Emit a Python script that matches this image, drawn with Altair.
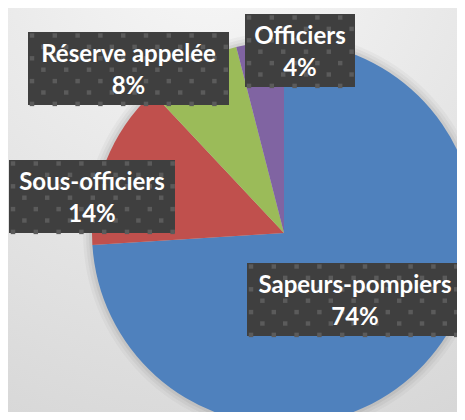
import altair as alt
import pandas as pd

# ---- data ----
categories = ["Sapeurs-pompiers", "Sous-officiers", "Réserve appelée", "Officiers"]
values = [74, 14, 8, 4]
pct_labels = ["74%", "14%", "8%", "4%"]
colors = ["#4f81bd", "#c0504d", "#9bbb59", "#8064a2"]

# ---- layout (page pixels, used only for placing annotation boxes) ----
W, H = 449, 404
CX, CY, R = 284, 233, 192          # pie centre / radius in page pixels
box_left = [247, 9, 28, 245]
box_right = [463, 175, 229, 355]
box_top = [263, 160, 32, 14]
BOX_H = 73
STEP = 11.4


def ux(px):
    return (px - CX) / R


def uy(py):
    return (CY - py) / R


xs = alt.Scale(domain=[ux(8), ux(8 + W)], nice=False, zero=False)
ys = alt.Scale(domain=[uy(8 + H), uy(8)], nice=False, zero=False)

pie_df = pd.DataFrame({
    "cat": categories,
    "value": values,
    "order": list(range(len(categories))),
    "cx": [0.0] * 4,
    "cy": [0.0] * 4,
})

lab_df = pd.DataFrame({
    "cat": categories,
    "pct": pct_labels,
    "x1": [ux(v) for v in box_left],
    "x2": [ux(v) for v in box_right],
    "y1": [uy(v) for v in box_top],
    "y2": [uy(v + BOX_H) for v in box_top],
    "tx": [ux((a + b) / 2) for a, b in zip(box_left, box_right)],
    "ty1": [uy(v + 30) for v in box_top],
    "ty2": [uy(v + 62) for v in box_top],
})

# decorative dotted fill pattern of the label boxes
pat_x, pat_y = [], []
for l, r, t in zip(box_left, box_right, box_top):
    j = 0
    while t + 3.5 + STEP * j < t + BOX_H - 1:
        i = 0
        while l + 4 + STEP * i < r - 1:
            if (i + j) % 2 == 0:
                pat_x.append(ux(l + 4 + STEP * i))
                pat_y.append(uy(t + 3.5 + STEP * j))
            i += 1
        j += 1
pat_df = pd.DataFrame({"x": pat_x, "y": pat_y})

centre_df = pd.DataFrame({"cx": [0.0], "cy": [0.0]})
bg_df = pd.DataFrame({"x": [ux(8)], "x2": [ux(8 + W)], "y": [uy(8)], "y2": [uy(8 + H)]})

bg = alt.Chart(bg_df).mark_rect(
    fill=alt.RadialGradient(
        gradient="radial",
        x1=0.45, y1=-0.1, r1=0.0,
        x2=0.45, y2=-0.1, r2=1.25,
        stops=[alt.GradientStop(color="#f8f8f8", offset=0),
               alt.GradientStop(color="#d5d5d5", offset=1)],
    )
).encode(
    x=alt.X("x:Q", scale=xs, axis=None),
    x2="x2:Q",
    y=alt.Y("y:Q", scale=ys, axis=None),
    y2="y2:Q",
)

shadow_layers = []
for rad, op in [(201, 0.03), (198, 0.04), (195, 0.05)]:
    shadow_layers.append(
        alt.Chart(centre_df).mark_arc(
            theta=0, theta2=6.2832, radius=rad, fill="#000000", opacity=op
        ).encode(
            x=alt.X("cx:Q", scale=xs, axis=None),
            y=alt.Y("cy:Q", scale=ys, axis=None),
        )
    )

pie = alt.Chart(pie_df).mark_arc(radius=R).encode(
    x=alt.X("cx:Q", scale=xs, axis=None),
    y=alt.Y("cy:Q", scale=ys, axis=None),
    theta=alt.Theta("value:Q", stack=True),
    order=alt.Order("order:Q"),
    color=alt.Color("cat:N", scale=alt.Scale(domain=categories, range=colors), legend=None),
)

box_enc = dict(
    x=alt.X("x1:Q", scale=xs, axis=None),
    x2="x2:Q",
    y=alt.Y("y1:Q", scale=ys, axis=None),
    y2="y2:Q",
)
box_shadow2 = alt.Chart(lab_df).mark_rect(fill="#000000", opacity=0.10, xOffset=5, yOffset=5).encode(**box_enc)
box_shadow = alt.Chart(lab_df).mark_rect(fill="#000000", opacity=0.22, xOffset=3, yOffset=3).encode(**box_enc)
box = alt.Chart(lab_df).mark_rect(fill="#3f3f3f").encode(**box_enc)

pattern = alt.Chart(pat_df).mark_square(size=20, color="#5b5b5b", opacity=1).encode(
    x=alt.X("x:Q", scale=xs, axis=None),
    y=alt.Y("y:Q", scale=ys, axis=None),
)

txt_props = dict(font="Lato", fontWeight="bold", fontSize=24, color="#ffffff",
                 align="center", baseline="alphabetic")
t1 = alt.Chart(lab_df).mark_text(**txt_props).encode(
    x=alt.X("tx:Q", scale=xs, axis=None),
    y=alt.Y("ty1:Q", scale=ys, axis=None),
    text="cat:N",
)
t2 = alt.Chart(lab_df).mark_text(**txt_props).encode(
    x=alt.X("tx:Q", scale=xs, axis=None),
    y=alt.Y("ty2:Q", scale=ys, axis=None),
    text="pct:N",
)

chart = alt.layer(bg, *shadow_layers, pie, box_shadow2, box_shadow, box, pattern, t1, t2).properties(
    width=W, height=H, padding=0, autosize=alt.AutoSizeParams(type="none"),
    background="#e6e6e6",
).configure_view(stroke=None, clip=True)

chart.save("out.html", embed_options={"renderer": "svg", "actions": False})
